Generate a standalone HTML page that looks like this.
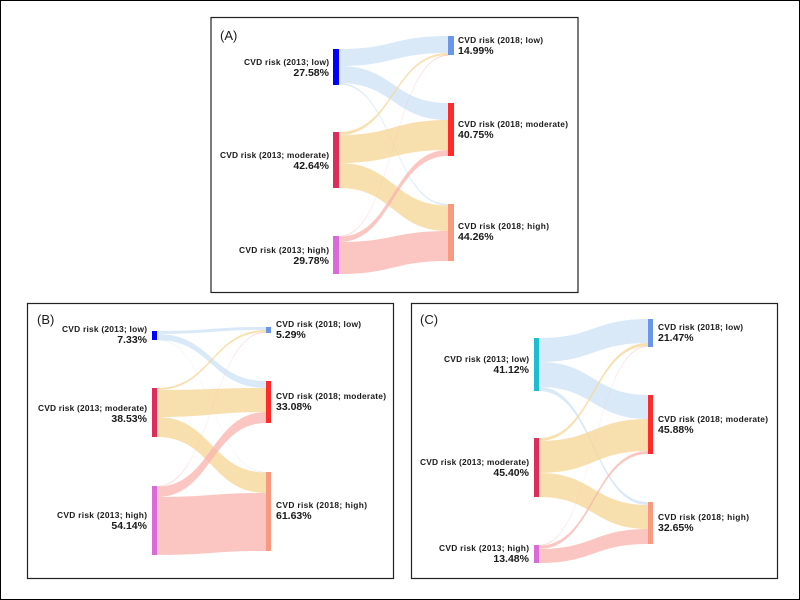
<!DOCTYPE html>
<html><head><meta charset="utf-8"><style>
html,body{margin:0;padding:0;background:#fff}
svg{display:block}
text{font-family:"Liberation Sans",Arial,sans-serif;fill:#1a1a1a}
.l{font-size:8.4px;font-weight:bold}
.p{font-size:10.5px;font-weight:bold}
.t{font-size:13px}
</style></head><body>
<svg id="s" width="800" height="600" viewBox="0 0 800 600" xmlns="http://www.w3.org/2000/svg">
<rect x="0.5" y="0.5" width="799" height="599" fill="#fff" stroke="#000" stroke-width="1"/>
<rect x="211" y="17.5" width="367" height="275" fill="none" stroke="#222" stroke-width="1.2"/>
<rect x="27.5" y="303.5" width="366" height="275" fill="none" stroke="#222" stroke-width="1.2"/>
<rect x="411.5" y="303.5" width="366" height="275" fill="none" stroke="#222" stroke-width="1.2"/>
<g id="flows"></g>
<g id="nodes">
<!-- A -->
<rect x="333" y="49" width="6" height="36" fill="#0000ff"/>
<rect x="333" y="132" width="6" height="56" fill="#dc2d5c"/>
<rect x="333" y="236" width="6" height="38" fill="#d96ad8"/>
<rect x="448" y="36" width="6" height="19" fill="#6b96ea"/>
<rect x="448" y="103" width="6" height="53" fill="#ff2a2a"/>
<rect x="448" y="204" width="6" height="57" fill="#f99a80"/>
<!-- B -->
<rect x="152" y="331" width="5" height="9" fill="#0000ff"/>
<rect x="152" y="388" width="5" height="49" fill="#dc2d5c"/>
<rect x="152" y="486" width="5" height="69" fill="#d96ad8"/>
<rect x="266" y="327" width="5" height="6" fill="#6b96ea"/>
<rect x="266" y="381" width="5" height="42" fill="#ff2a2a"/>
<rect x="266" y="472" width="5" height="79" fill="#f99a80"/>
<!-- C -->
<rect x="534" y="338" width="5" height="53" fill="#1bbfd0"/>
<rect x="534" y="438" width="5" height="59" fill="#dc2d5c"/>
<rect x="534" y="545" width="5" height="18" fill="#d96ad8"/>
<rect x="648" y="319" width="5" height="28" fill="#6b96ea"/>
<rect x="648" y="395" width="5" height="59" fill="#ff2a2a"/>
<rect x="648" y="502" width="5" height="42" fill="#f99a80"/>
</g>
<text class="t" x="220" y="40">(A)</text>
<text class="t" x="37" y="324">(B)</text>
<text class="t" x="420" y="324">(C)</text>
<!-- A labels -->
<g text-anchor="end">
<text class="l" x="329" y="65" textLength="85">CVD risk (2013; low)</text><text class="p" x="329" y="76">27.58%</text>
<text class="l" x="329" y="158" textLength="109">CVD risk (2013; moderate)</text><text class="p" x="329" y="169">42.64%</text>
<text class="l" x="329" y="253" textLength="90">CVD risk (2013; high)</text><text class="p" x="329" y="264">29.78%</text>
<text class="l" x="147" y="332" textLength="85">CVD risk (2013; low)</text><text class="p" x="147" y="343">7.33%</text>
<text class="l" x="147" y="411" textLength="109">CVD risk (2013; moderate)</text><text class="p" x="147" y="422">38.53%</text>
<text class="l" x="147" y="518" textLength="90">CVD risk (2013; high)</text><text class="p" x="147" y="529">54.14%</text>
<text class="l" x="529" y="362" textLength="85">CVD risk (2013; low)</text><text class="p" x="529" y="373">41.12%</text>
<text class="l" x="529" y="465" textLength="109">CVD risk (2013; moderate)</text><text class="p" x="529" y="476">45.40%</text>
<text class="l" x="529" y="551" textLength="90">CVD risk (2013; high)</text><text class="p" x="529" y="562">13.48%</text>
</g>
<g>
<text class="l" x="458" y="43" textLength="85">CVD risk (2018; low)</text><text class="p" x="458" y="54">14.99%</text>
<text class="l" x="458" y="127" textLength="110">CVD risk (2018; moderate)</text><text class="p" x="458" y="138">40.75%</text>
<text class="l" x="458" y="229" textLength="91">CVD risk (2018; high)</text><text class="p" x="458" y="240">44.26%</text>
<text class="l" x="276" y="327" textLength="85">CVD risk (2018; low)</text><text class="p" x="276" y="338">5.29%</text>
<text class="l" x="276" y="399" textLength="110">CVD risk (2018; moderate)</text><text class="p" x="276" y="410">33.08%</text>
<text class="l" x="276" y="508" textLength="91">CVD risk (2018; high)</text><text class="p" x="276" y="519">61.63%</text>
<text class="l" x="658" y="330" textLength="85">CVD risk (2018; low)</text><text class="p" x="658" y="341">21.47%</text>
<text class="l" x="658" y="422" textLength="110">CVD risk (2018; moderate)</text><text class="p" x="658" y="433">45.88%</text>
<text class="l" x="658" y="520" textLength="91">CVD risk (2018; high)</text><text class="p" x="658" y="531">32.65%</text>
</g>
</svg>
<script>
var B='#cde2f4',O='#f6d593',P='#f9b3ae';
var panels=[
[339,448,[[49,66,36,53,B],[66,83,103,120,B],[83,84.5,204,205.5,B],[132,135,53,55,O],[135,163,120,150,O],[163,188,205.5,231,O],[236,236.7,55,55.7,P],[236.7,242,150,156,P],[242,274,231,261,P]]],
[157,266,[[331,334,327,330,B],[334,340,381,388,B],[339.5,340,472,472.5,B],[388,390,330,332,O],[390,417,388,412,O],[417,437,472.5,493,O],[486,486.6,332,332.6,P],[486.6,497,412,423,P],[497,555,493,551,P]]],
[539,648,[[338,362,319,343,B],[362,387,395,419,B],[387,391,502,505,B],[438,441,343,346,O],[441,473,419,451,O],[473,497,505,529,O],[545,545.6,346,346.6,P],[545.6,549,451,454,P],[549,563,529,544,P]]]
];
var g=document.getElementById('flows'),ns='http://www.w3.org/2000/svg';
panels.forEach(function(p){var x0=p[0],x1=p[1],m=(x0+x1)/2;p[2].forEach(function(f){
var d='M'+x0+','+f[0]+'C'+m+','+f[0]+' '+m+','+f[2]+' '+x1+','+f[2]+'L'+x1+','+f[3]+'C'+m+','+f[3]+' '+m+','+f[1]+' '+x0+','+f[1]+'Z';
var e=document.createElementNS(ns,'path');e.setAttribute('d',d);e.setAttribute('fill',f[4]);e.setAttribute('fill-opacity','0.75');g.appendChild(e);});});
</script>
</body></html>
